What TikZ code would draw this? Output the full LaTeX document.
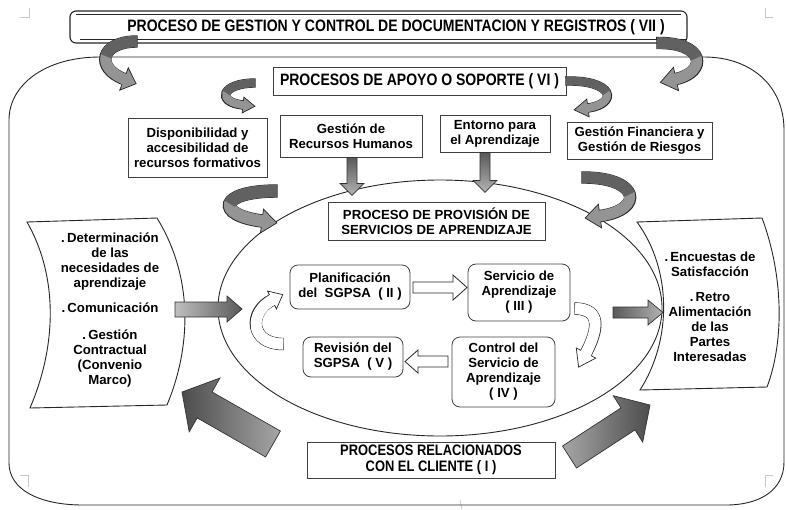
\documentclass[tikz,border=0pt]{standalone}
\usepackage{fontspec}
\setmainfont{Liberation Sans}
\newfontfamily\narrowsans{Liberation Sans}[FakeStretch=0.85]
\usetikzlibrary{calc}

\newcommand\titlefont{\narrowsans\bfseries\fontsize{16.5}{15.5}\selectfont}
\newcommand\clientfont{\narrowsans\bfseries\fontsize{15.2}{15.5}\selectfont}
\newcommand\boxfont{\bfseries\fontsize{13.2}{15}\selectfont}

% bent band arrow: #1 tail fill, #2 head fill, #3 band width, #4 tail, #5 #6 controls,
% #7 head base, #8 head length, #9 head half-width
\newcommand\bentarrow[9]{%
  \draw[line width=\dimexpr#3pt+1.4pt\relax, draw=black!85, line cap=butt]
    ($#4!-0.7pt!#5$) -- #4 .. controls #5 and #6 .. #7;
  \filldraw[fill=#2, draw=black!85, line width=0.7pt, line join=miter]
    ($#7!#9pt!90:#6$) -- ($#7!-#8pt!#6$) -- ($#7!#9pt!-90:#6$) -- cycle;
  % whole band in the head colour
  \draw[line width=#3pt, draw=#2, line cap=butt]
    #4 .. controls #5 and #6 .. ($#7!-2pt!#6$);
  % first half of the band (de Casteljau split at t=1/2) in the tail colour
  \draw[line width=#3pt, draw=#1, line cap=butt]
    #4 .. controls ($0.5*#4+0.5*#5$) and ($0.25*#4+0.5*#5+0.25*#6$)
    .. ($0.125*#4+0.375*#5+0.375*#6+0.125*#7$);
}

\begin{document}
\begin{tikzpicture}[x=1pt,y=-1pt,
  outline/.style={draw=black!85, line width=0.9pt},
  sqbox/.style={draw=black!75, line width=0.8pt, fill=white, inner sep=0pt,
    align=center, font=\boxfont},
  rbox/.style={sqbox, rounded corners=8pt},
  headtext/.style={align=center, font=\titlefont},
  scrolltext/.style={align=center, font=\boxfont},
  cornermark/.style={draw=black!22, line width=0.8pt},
  grayarrow/.style={draw=black!80, line width=0.7pt, line join=miter},
  whitearrow/.style={draw=black!85, line width=0.8pt, fill=white, line join=miter},
]
\useasboundingbox (0,0) rectangle (786,509);

% page corner marks
\draw[cornermark] (20,17) -- (29,17) -- (29,8);
\draw[cornermark] (765,8) -- (765,17) -- (773,17);
\draw[cornermark] (20,475) -- (28,475) -- (28,487);
\draw[cornermark] (765,487) -- (765,475) -- (773,475);
\draw[cornermark] (460,500) -- (462,509);

% outer frame
\draw[outline] (100,57) -- (704,57) .. controls (750,57) and (784,85) .. (784,130)
  -- (784,462) .. controls (784,490) and (760,505) .. (726,505)
  -- (83,505) .. controls (40,505) and (9,490) .. (9,463)
  -- (9,120) .. controls (9,85) and (45,57) .. (100,57) -- cycle;

% provision ellipse
\draw[outline] (440,308) ellipse [x radius=222pt, y radius=128pt];

% documentation banner (horizontal scroll)
\draw[outline, line width=1.1pt, fill=white, rounded corners=6pt] (70,11) rectangle (687,43);
\draw[outline, line width=0.7pt] (76,14.5) -- (681,14.5);
\draw[outline, line width=0.7pt] (80,39.5) -- (687,39.5);
\node[headtext] (docs) at (396,27) {PROCESO DE GESTION Y CONTROL DE DOCUMENTACION Y REGISTROS ( VII )};

% support processes
\node[sqbox, font=\titlefont, minimum width=293pt, minimum height=28pt] (apoyo) at (419.5,81) {PROCESOS DE APOYO O SOPORTE ( VI )};
\node[sqbox, minimum width=139pt, minimum height=59pt] (disp) at (197.5,147.5) {Disponibilidad y\\accesibilidad de\\recursos formativos};
\node[sqbox, minimum width=142pt, minimum height=42pt] (rrhh) at (351,136) {Gestión de\\Recursos Humanos};
\node[sqbox, minimum width=110pt, minimum height=37pt] (entorno) at (495,133.5) {Entorno para\\el Aprendizaje};
\node[sqbox, minimum width=145pt, minimum height=37pt] (finanzas) at (639.5,140.5) {Gestión Financiera y\\Gestión de Riesgos};

% provision of learning services
\node[sqbox, minimum width=217pt, minimum height=38pt] (provision) at (436.5,221) {PROCESO DE PROVISIÓN DE\\SERVICIOS DE APRENDIZAJE};
\node[rbox, minimum width=120pt, minimum height=44pt] (plan) at (350,287) {Planificación\\del\ \ SGPSA\ \ ( II )};
\node[rbox, minimum width=102pt, minimum height=57pt] (servicio) at (519,292.5) {Servicio de\\Aprendizaje\\( III )};
\node[rbox, minimum width=100pt, minimum height=40pt] (revision) at (353,357) {Revisión del\\SGPSA\ \ ( V )};
\node[rbox, minimum width=103pt, minimum height=70pt] (control) at (503.5,372) {Control del\\Servicio de\\Aprendizaje\\( IV )};

% customer processes
\node[sqbox, font=\clientfont, minimum width=248pt, minimum height=36pt] (cliente) at (431,460) {PROCESOS RELACIONADOS\\CON EL CLIENTE ( I )};

% input scroll
\draw[outline, fill=white] (27,222) -- (157,218) .. controls (195,280) and (190,350) .. (167,405)
  -- (30,408) .. controls (55,350) and (60,280) .. (27,222) -- cycle;
\node[scrolltext] (needs) at (110,310) {.\,Determinación\\de las\\necesidades de\\aprendizaje\\[10pt].\,Comunicación\\[12pt].\,Gestión\\Contractual\\(Convenio\\Marco)};

% output scroll
\draw[outline, fill=white] (637,222) -- (762,218) .. controls (785,280) and (783,345) .. (767,387)
  -- (640,390) .. controls (672,340) and (672,270) .. (637,222) -- cycle;
\node[scrolltext] (feedback) at (710,307) {.\,Encuestas de\\Satisfacción\\[10pt].\,Retro\\Alimentación\\de las\\Partes\\Interesadas};

% straight shaded arrows
\shadedraw[grayarrow, left color=black!25, right color=black!65]
  (175,302) -- (227,302) -- (227,296) -- (242,309) -- (227,322) -- (227,317) -- (175,317) -- cycle;
\shadedraw[grayarrow, left color=black!65, right color=black!30]
  (613,307) -- (648,307) -- (648,300) -- (663,312.5) -- (648,325) -- (648,318) -- (613,318) -- cycle;
\begin{scope}[shift={(rrhh.south)}]
  \shadedraw[grayarrow, top color=black!65, bottom color=black!30]
    (-4,0) -- (6,0) -- (6,26) -- (13,26) -- (1,38) -- (-11,26) -- (-4,26) -- cycle;
\end{scope}
\begin{scope}[shift={(entorno.south)}]
  \shadedraw[grayarrow, top color=black!65, bottom color=black!30]
    (-15,0) -- (-5,0) -- (-5,28) -- (2,28) -- (-10,40) -- (-22,28) -- (-15,28) -- cycle;
\end{scope}

% large arrows from the customer processes
\shadedraw[grayarrow, left color=black!70, right color=black!35]
  (280.4,431) -- (212,391.9) -- (220,378) -- (182,392) -- (189.2,431.8) -- (197.2,417.9) -- (265.6,457) -- cycle;
\shadedraw[grayarrow, left color=black!35, right color=black!70]
  (562.5,446) -- (621,407.9) -- (613.3,395.7) -- (650,405) -- (642.7,442.1) -- (635,429.9) -- (576.5,468) -- cycle;

% white block arrows of the cycle
\draw[whitearrow] (413,282) -- (453,282) -- (453,275) -- (467,287.5) -- (453,300) -- (453,293) -- (413,293) -- cycle;
\draw[whitearrow] (448,356) -- (418,356) -- (418,350) -- (405,361.5) -- (418,373) -- (418,367) -- (448,367) -- cycle;

% bent arrows
\bentarrow{black!62}{black!42}{11}{(137,41.5)}{(100,41.5)}{(95,68)}{(124,79)}{13}{12}
\bentarrow{black!62}{black!42}{11}{(657,43)}{(705,42)}{(708,72)}{(676,79)}{16}{12}
\bentarrow{black!62}{black!42}{8}{(255,83)}{(222,83)}{(215,102)}{(243,105)}{12}{8}
\bentarrow{black!62}{black!42}{8}{(566,81)}{(615,80)}{(618,104)}{(588,108)}{14}{9}
\bentarrow{black!62}{black!42}{12}{(277,191)}{(218,191)}{(215,215)}{(262,221)}{15}{12}
\bentarrow{black!62}{black!42}{11}{(582,177.5)}{(640,177)}{(645,210)}{(600,216)}{15}{12}
\bentarrow{white}{white}{11}{(283,344)}{(250,344)}{(248,312)}{(272,300)}{12}{10}
\bentarrow{white}{white}{11}{(575,308.5)}{(602,309)}{(598,330)}{(586,353)}{16}{11}

\end{tikzpicture}
\end{document}
